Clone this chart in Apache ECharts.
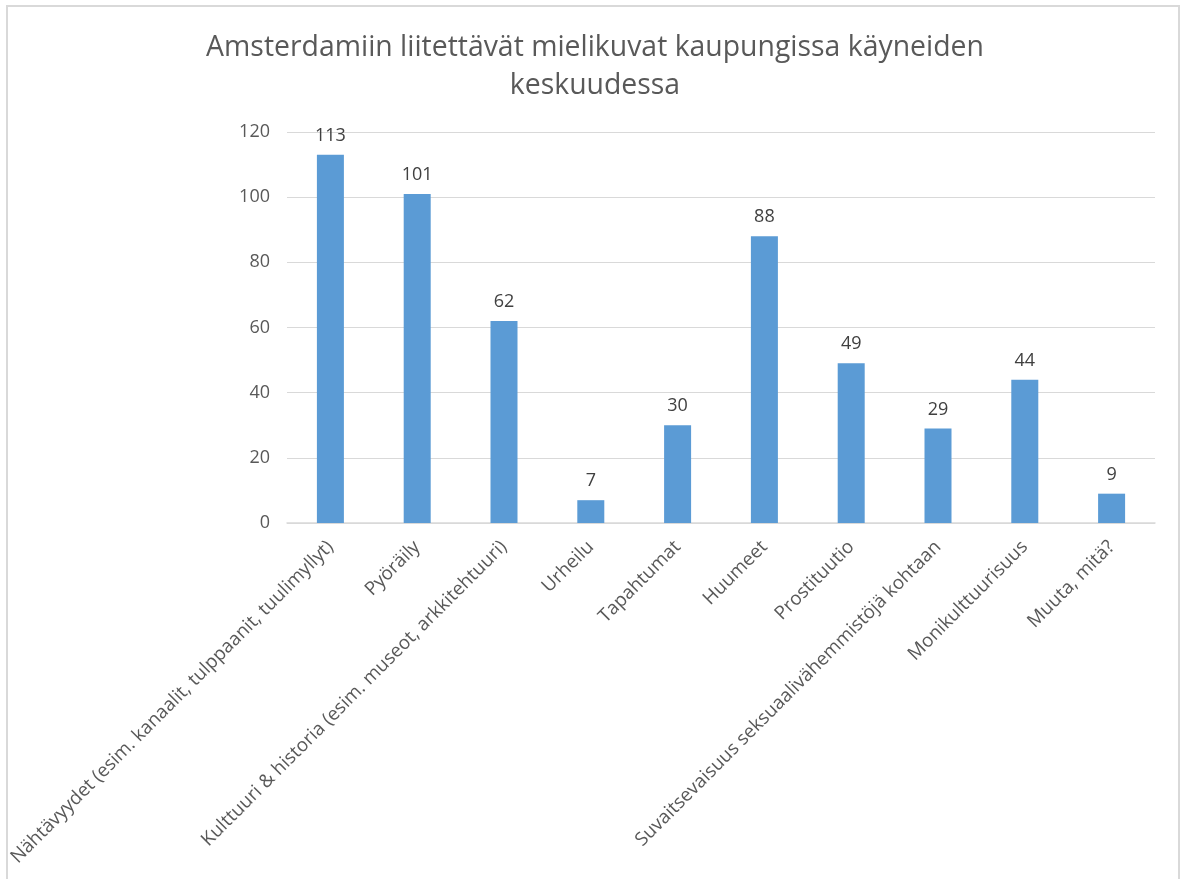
<!DOCTYPE html>
<html>
<head>
<meta charset="utf-8">
<script src="https://cdn.jsdelivr.net/npm/echarts@6/dist/echarts.min.js"></script>
<style>
html,body{margin:0;padding:0;background:#fff;}
#c{width:1184px;height:879px;}
</style>
</head>
<body>
<div id="c"></div>
<script>
const titleText = 'Amsterdamiin liitettävät mielikuvat kaupungissa käyneiden\nkeskuudessa';
const categories = [
  'Nähtävyydet (esim. kanaalit, tulppaanit, tuulimyllyt)',
  'Pyöräily',
  'Kulttuuri & historia (esim. museot, arkkitehtuuri)',
  'Urheilu',
  'Tapahtumat',
  'Huumeet',
  'Prostituutio',
  'Suvaitsevaisuus seksuaalivähemmistöjä kohtaan',
  'Monikulttuurisuus',
  'Muuta, mitä?'
];
const values = [113, 101, 62, 7, 30, 88, 49, 29, 44, 9];
const yTicks = [0, 20, 40, 60, 80, 100, 120];

const chart = echarts.init(document.getElementById('c'));
chart.setOption({
  animation: false,
  backgroundColor: '#ffffff',
  graphic: [{
    type: 'rect',
    shape: {x: 7, y: 6, width: 1172, height: 900},
    style: {fill: 'none', stroke: '#d9d9d9', lineWidth: 2},
    silent: true
  }],
  title: {
    text: titleText,
    left: 590,
    textAlign: 'center',
    top: 24,
    textStyle: {
      fontFamily: 'Open Sans',
      fontSize: 28.4,
      fontWeight: 'normal',
      color: '#595959',
      lineHeight: 38
    }
  },
  grid: {left: 287, right: 29, top: 132, bottom: 356, containLabel: false},
  xAxis: {
    type: 'category',
    data: categories,
    axisLine: {lineStyle: {color: '#d9d9d9', width: 1.5}},
    axisTick: {show: false},
    axisLabel: {
      interval: 0,
      rotate: 45,
      margin: 21,
      fontFamily: 'Open Sans',
      fontSize: 18.8,
      color: '#595959'
    }
  },
  yAxis: {
    type: 'value',
    min: yTicks[0],
    max: yTicks[yTicks.length - 1],
    interval: 20,
    axisLine: {show: false},
    axisTick: {show: false},
    splitLine: {lineStyle: {color: '#d9d9d9', width: 1}},
    axisLabel: {
      margin: 17,
      fontFamily: 'Open Sans',
      fontSize: 18,
      color: '#595959'
    }
  },
  series: [{
    type: 'bar',
    data: values,
    barWidth: 27,
    itemStyle: {color: '#5b9bd5'},
    label: {
      show: true,
      position: 'top',
      distance: 10,
      fontFamily: 'Open Sans',
      fontSize: 18,
      color: '#404040'
    }
  }]
});
</script>
</body>
</html>
